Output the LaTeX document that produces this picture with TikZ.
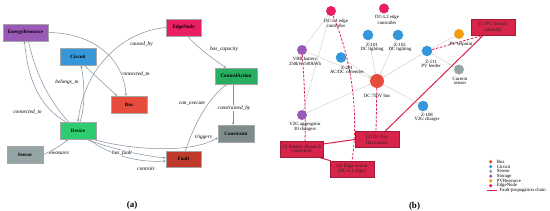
\documentclass[tikz,border=0pt]{standalone}
\usepackage{fontspec}
\setmainfont{Liberation Serif}
\usetikzlibrary{arrows.meta,backgrounds}
\definecolor{cER}{HTML}{9B59B6}
\definecolor{cCirc}{HTML}{3498DB}
\definecolor{cEdge}{HTML}{E91E63}
\definecolor{cCA}{HTML}{27AE60}
\definecolor{cBus}{HTML}{E74C3C}
\definecolor{cDev}{HTML}{2ECC71}
\definecolor{cSens}{HTML}{95A5A6}
\definecolor{cCons}{HTML}{7F8C8D}
\definecolor{cFault}{HTML}{C0392B}
\definecolor{cPV}{HTML}{F39C12}
\definecolor{cRel}{HTML}{7F8FA0}
\definecolor{cChain}{HTML}{D8234A}
\definecolor{cTopo}{HTML}{CFCFCF}
\begin{document}
\begin{tikzpicture}[x=1pt,y=-1pt,
  ent/.style={draw=black!35, line width=0.4pt, inner sep=0pt, minimum height=17pt, font=\fontsize{5}{6}\selectfont\bfseries},
  rel/.style={draw=cRel, line width=0.5pt, -{Stealth[length=2.6pt,width=2.2pt]}},
  lab/.style={font=\fontsize{5.3}{6}\selectfont\itshape, inner sep=0.3pt, fill=white},
  cdot/.style={circle, inner sep=0pt, minimum size=10pt},
  nlab/.style={font=\fontsize{4.8}{4}\selectfont, align=center, inner sep=0pt},
  topo/.style={draw=cTopo, line width=0.45pt},
  topoa/.style={topo, -{Stealth[length=2pt,width=1.6pt]}},
  fbox/.style={draw=cChain!75!black, fill=cChain, line width=0.4pt, inner sep=0pt, minimum width=44pt, minimum height=16pt, align=center, font=\fontsize{5}{4.4}\selectfont, text=black!85},
  fchain/.style={draw=cChain, line width=1pt},
  dchain/.style={draw=cChain, line width=0.8pt, dash pattern=on 2.5pt off 1.5pt},
  leg/.style={font=\fontsize{4.8}{4.8}\selectfont, anchor=west, inner sep=0pt},
  ldot/.style={circle, inner sep=0pt, minimum size=3.6pt},
  plab/.style={font=\fontsize{9}{10}\selectfont\bfseries, inner sep=0pt}
]
\useasboundingbox (0,0) rectangle (550,211);

% ---------------- panel (a) ----------------
\node[ent, fill=cER, minimum width=45pt] (ER) at (25.5,32.5) {EnergyResource};
\node[ent, fill=cCirc, minimum width=36pt] (Circ) at (78,56.5) {Circuit};
\node[ent, fill=cEdge, minimum width=35pt] (EN) at (183.5,27.5) {EdgeNode};
\node[ent, fill=cCA, minimum width=42pt, minimum height=16pt] (CA) at (236,76) {ControlAction};
\node[ent, fill=cBus, minimum width=36pt] (Bus) at (129,104.5) {Bus};
\node[ent, fill=cDev, minimum width=36pt] (Dev) at (78,130.5) {Device};
\node[ent, fill=cSens, minimum width=36pt] (Sens) at (25,154.5) {Sensor};
\node[ent, fill=cCons, minimum width=36pt] (Cons) at (236,133.5) {Constraint};
\node[ent, fill=cFault, minimum width=35pt, minimum height=16pt] (Fault) at (183.5,159) {Fault};

\begin{pgfonlayer}{background}
\draw[rel] (ER.east) .. controls (95,33) and (124,60) .. ([xshift=-3pt]Bus.north);
\draw[rel] ([xshift=6pt]Circ.south) -- ([xshift=-12pt]Bus.north);
\draw[rel] ([xshift=2pt]Dev.north) .. controls (86,105) and (84,80) .. ([xshift=3pt]Circ.south);
\draw[rel] (EN.west) .. controls (120,32) and (84,70) .. (Dev.north);
\draw[rel] ([xshift=-12pt]Dev.north) .. controls (35,105) and (27,70) .. ([xshift=-1pt]ER.south);
\draw[rel] ([xshift=3pt]ER.south) .. controls (45,118) and (100,165) .. ([yshift=-2pt]Fault.west);
\draw[rel] ([xshift=8pt]Dev.south) .. controls (115,150) and (145,156) .. ([yshift=1pt]Fault.west);
\draw[rel] ([xshift=14pt]Dev.south) .. controls (140,152) and (195,152) .. ([yshift=-4pt]Cons.west);
\draw[rel] (Sens.east) .. controls (50,152) and (62,145) .. ([xshift=-10pt]Dev.south);
\draw[rel] ([xshift=4pt]EN.south) .. controls (200,50) and (215,60) .. ([xshift=-10pt]CA.north);
\draw[rel] ([xshift=2pt]Fault.north) .. controls (195,120) and (212,95) .. ([xshift=-9pt]CA.south);
\draw[rel] ([xshift=-3pt]CA.south) -- ([xshift=-3pt]Cons.north);
\end{pgfonlayer}

\node[lab] (l1) at (135.5,74) {connected\_to};
\node[lab] (l2) at (67,82.5) {belongs\_to};
\node[lab] (l3) at (141.5,44) {caused\_by};
\node[lab] (l4) at (224,49) {has\_capacity};
\node[lab] (l5) at (192,103) {can\_execute};
\node[lab] (l6) at (234,108) {constrained\_by};
\node[lab] (l7) at (27.5,112) {connected\_to};
\node[lab] (l8) at (59,153) {measures};
\node[lab] (l9) at (122,153) {has\_fault};
\node[lab] (l10) at (203.5,137) {triggers};
\node[lab] (l11) at (146,169) {controls};

\node[plab] (pa) at (132,205) {(a)};

% ---------------- panel (b) ----------------
\node[cdot, fill=cEdge] (L1) at (331,11) {};
\node[cdot, fill=cEdge] (L2) at (384,8.5) {};
\node[cdot, fill=cCirc, minimum size=10.6pt] (Z101) at (368,35) {};
\node[cdot, fill=cCirc, minimum size=10.6pt] (Z102) at (398,35) {};
\node[cdot, fill=cER] (VRB) at (302,50) {};
\node[cdot, fill=cCirc, minimum size=10.6pt] (Z201) at (341,57.5) {};
\node[cdot, fill=cBus, minimum size=14pt] (DCB) at (377,81) {};
\node[cdot, fill=cCirc, minimum size=10.6pt] (Z111) at (427,51) {};
\node[cdot, fill=cPV] (PVS) at (459,34) {};
\node[cdot, fill=cSens] (CS) at (459,69.5) {};
\node[cdot, fill=cER] (V2G) at (302,115) {};
\node[cdot, fill=cCirc, minimum size=10.6pt] (Z108) at (423,106) {};

\node[nlab] (tL1) at (336,23.5) {DC-L1 edge\\controller};
\node[nlab] (tL2) at (387,19.8) {DC-L2 edge\\controller};
\node[nlab] (tZ101) at (372,47.5) {Z-101\\DC lighting};
\node[nlab] (tZ102) at (400,47.5) {Z-102\\DC lighting};
\node[nlab] (tVRB) at (305,61.5) {VRB battery\\250kW/500kWh};
\node[nlab] (tZ201) at (347,69.7) {Z-201\\AC/DC converter};
\node[nlab] (tDCB) at (377,95.7) {DC 750V bus};
\node[nlab] (tZ111) at (431,63.6) {Z-111\\PV feeder};
\node[nlab] (tPVS) at (461,44) {PV setpoint};
\node[nlab] (tCS) at (460,80.7) {Current\\sensor};
\node[nlab] (tV2G) at (305,126.7) {V2G aggregator\\30 chargers};
\node[nlab] (tZ108) at (427,117.7) {Z-108\\V2G charger};

\node[fbox] (F1) at (493,27.5) {(1) PV branch\\anomaly};
\node[fbox] (F2) at (377,139.5) {(2) DC bus\\fluctuation};
\node[fbox, minimum width=43pt] (F3) at (301.5,149) {(3) Battery dispatch\\correction};
\node[fbox] (F4) at (352,169) {(4) Edge action\\(DC-L1 edge)};

\begin{pgfonlayer}{background}
\draw[topo] (L1) -- (VRB);
\draw[topo] (L1) -- (V2G);
\draw[topoa] (VRB) -- (DCB);
\draw[topoa] (Z201) -- (DCB);
\draw[topoa] (Z101) -- (DCB);
\draw[topoa] (Z102) -- (DCB);
\draw[topoa] (Z111) -- (DCB);
\draw[topoa] (V2G) -- (DCB);
\draw[topoa] (DCB) -- (Z108);
\draw[topo] (Z111) -- (PVS);
\draw[topo] (Z111) -- (CS);
\draw[dchain] (Z111) -- ([xshift=-11pt]F1.south);
\draw[dchain] (L1) .. controls (352,60) and (359,115) .. (F4.north);
\draw[dchain] (VRB) .. controls (304,80) and (306,110) .. ([xshift=3.5pt]F3.north);
\draw[dchain] (DCB) -- ([xshift=-1pt]F2.north);
\draw[fchain] ([xshift=12pt]F1.south west) -- ([xshift=8pt]F2.north);
\draw[fchain] (F2.west) -- ([yshift=5pt]F3.east);
\draw[fchain] ([xshift=-5pt]F3.south east) -- ([xshift=1pt]F4.north west);
\end{pgfonlayer}

% legend
\node[ldot, fill=cBus] (g1) at (490.7,161.8) {};
\node[ldot, fill=cCirc] (g2) at (490.7,166.6) {};
\node[ldot, fill=cSens] (g3) at (490.7,171.3) {};
\node[ldot, fill=cER] (g4) at (490.7,176.1) {};
\node[ldot, fill=cPV] (g5) at (490.7,180.9) {};
\node[ldot, fill=cEdge] (g6) at (490.7,185.7) {};
\coordinate (g7a) at (487,190.6);
\coordinate (g7b) at (496.5,190.6);
\draw[fchain] (g7a) -- (g7b);
\node[leg] (t1) at (496.7,161.8) {Bus};
\node[leg] (t2) at (496.7,166.6) {Circuit};
\node[leg] (t3) at (496.7,171.3) {Sensor};
\node[leg] (t4) at (496.7,176.1) {Storage};
\node[leg] (t5) at (496.7,180.9) {PVResource};
\node[leg] (t6) at (496.7,185.7) {EdgeNode};
\node[leg] (t7) at (499.5,190.6) {Fault-propagation chain};

\node[plab] (pb) at (414.5,206) {(b)};
\end{tikzpicture}
\end{document}
